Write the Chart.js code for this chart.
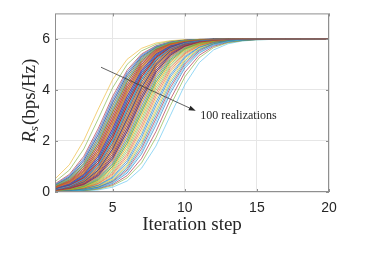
<!DOCTYPE html>
<html>
<head>
<meta charset="utf-8">
<script src="https://cdn.jsdelivr.net/npm/chart.js@4/dist/chart.umd.min.js"></script>
<style>
    html, body { margin: 0; padding: 0; background: #ffffff; }
    #wrap { width: 366px; height: 256px; }
</style>
</head>
<body>
<div id="wrap"><canvas id="rateChart" width="366" height="256"></canvas></div>
<script>
// Iteration steps (x axis)
const iterationSteps = [1, 2, 3, 4, 5, 6, 7, 8, 9, 10, 11, 12, 13, 14, 15, 16, 17, 18, 19, 20];

// Axis ticks
const xTicks = [5, 10, 15, 20];
const yTicks = [0, 2, 4, 6];

// Texts
const xTitle = 'Iteration step';
const yTitleMain = 'R';
const yTitleSub = 's';
const yTitleUnit = '(bps/Hz)';
const noteText = '100 realizations';

// Annotation arrow (data coords): tail and head
const arrowFrom = [4.19, 4.89];
const arrowTo = [10.76, 3.18];
const notePos = [11.08, 2.85];

// MATLAB default colour order
const lineColors = ['#0072BD', '#D95319', '#EDB120', '#7E2F8E', '#77AC30', '#4DBEEE', '#A2142F'];

// Secrecy rate Rs (bps/Hz) per iteration, one row per realization
const realizations = [
    [0.12,0.27,0.59,1.23,2.25,3.51,4.6,5.31,5.68,5.86,5.94,5.97,5.99,5.99,6,6,6,6,6,6],
    [0.07,0.16,0.37,0.8,1.59,2.75,3.98,4.93,5.49,5.77,5.9,5.96,5.98,5.99,6,6,6,6,6,6],
    [0.51,1.07,2.02,3.25,4.41,5.2,5.63,5.84,5.93,5.97,5.98,5.99,6,6,6,6,6,6,6,6],
    [0.18,0.4,0.86,1.69,2.87,4.09,5,5.53,5.79,5.91,5.96,5.98,5.99,6,6,6,6,6,6,6],
    [0.4,0.86,1.69,2.87,4.09,5,5.53,5.79,5.91,5.96,5.98,5.99,6,6,6,6,6,6,6,6],
    [0.01,0.02,0.04,0.08,0.19,0.43,0.93,1.8,3,4.2,5.07,5.57,5.81,5.92,5.96,5.98,5.99,6,6,6],
    [0.05,0.11,0.25,0.55,1.14,2.13,3.38,4.51,5.26,5.66,5.85,5.93,5.97,5.98,5.99,6,6,6,6,6],
    [0.15,0.34,0.74,1.49,2.62,3.87,4.86,5.45,5.75,5.89,5.95,5.98,5.99,6,6,6,6,6,6,6],
    [0.03,0.06,0.14,0.32,0.69,1.4,2.49,3.75,4.77,5.41,5.73,5.88,5.95,5.98,5.99,6,6,6,6,6],
    [0.09,0.21,0.47,1,1.91,3.13,4.31,5.14,5.6,5.82,5.92,5.97,5.98,5.99,6,6,6,6,6,6],
    [0.23,0.51,1.07,2.02,3.25,4.41,5.2,5.63,5.84,5.93,5.97,5.98,5.99,6,6,6,6,6,6,6],
    [0.06,0.14,0.32,0.69,1.4,2.49,3.75,4.77,5.41,5.73,5.88,5.95,5.98,5.99,6,6,6,6,6,6],
    [0.13,0.29,0.64,1.31,2.37,3.63,4.69,5.36,5.71,5.87,5.94,5.98,5.99,5.99,6,6,6,6,6,6],
    [0.02,0.03,0.08,0.18,0.4,0.86,1.69,2.87,4.09,5,5.53,5.79,5.91,5.96,5.98,5.99,6,6,6,6],
    [0.08,0.19,0.43,0.93,1.8,3,4.2,5.07,5.57,5.81,5.92,5.96,5.98,5.99,6,6,6,6,6,6],
    [0.16,0.37,0.8,1.59,2.75,3.98,4.93,5.49,5.77,5.9,5.96,5.98,5.99,6,6,6,6,6,6,6],
    [0.04,0.08,0.19,0.43,0.93,1.8,3,4.2,5.07,5.57,5.81,5.92,5.96,5.98,5.99,6,6,6,6,6],
    [0.27,0.59,1.23,2.25,3.51,4.6,5.31,5.68,5.86,5.94,5.97,5.99,5.99,6,6,6,6,6,6,6],
    [0.1,0.23,0.51,1.07,2.02,3.25,4.41,5.2,5.63,5.84,5.93,5.97,5.98,5.99,6,6,6,6,6,6],
    [0.07,0.15,0.34,0.74,1.49,2.62,3.87,4.86,5.45,5.75,5.89,5.95,5.98,5.99,6,6,6,6,6,6],
    [0.14,0.32,0.69,1.4,2.49,3.75,4.77,5.41,5.73,5.88,5.95,5.98,5.99,6,6,6,6,6,6,6],
    [0.02,0.05,0.11,0.25,0.55,1.14,2.13,3.38,4.51,5.26,5.66,5.85,5.93,5.97,5.98,5.99,6,6,6,6],
    [0.08,0.18,0.4,0.86,1.69,2.87,4.09,5,5.53,5.79,5.91,5.96,5.98,5.99,6,6,6,6,6,6],
    [0.21,0.47,1,1.91,3.13,4.31,5.14,5.6,5.82,5.92,5.97,5.98,5.99,6,6,6,6,6,6,6],
    [0.11,0.25,0.55,1.14,2.13,3.38,4.51,5.26,5.66,5.85,5.93,5.97,5.98,5.99,6,6,6,6,6,6],
    [0.04,0.1,0.23,0.51,1.07,2.02,3.25,4.41,5.2,5.63,5.84,5.93,5.97,5.98,5.99,6,6,6,6,6],
    [0.19,0.43,0.93,1.8,3,4.2,5.07,5.57,5.81,5.92,5.96,5.98,5.99,6,6,6,6,6,6,6],
    [0.01,0.02,0.06,0.13,0.29,0.64,1.31,2.37,3.63,4.69,5.36,5.71,5.87,5.94,5.98,5.99,5.99,6,6,6],
    [0.06,0.13,0.29,0.64,1.31,2.37,3.63,4.69,5.36,5.71,5.87,5.94,5.98,5.99,5.99,6,6,6,6,6],
    [0.15,0.34,0.74,1.49,2.62,3.87,4.86,5.45,5.75,5.89,5.95,5.98,5.99,6,6,6,6,6,6,6],
    [0.09,0.21,0.47,1,1.91,3.13,4.31,5.14,5.6,5.82,5.92,5.97,5.98,5.99,6,6,6,6,6,6],
    [0.29,0.64,1.31,2.37,3.63,4.69,5.36,5.71,5.87,5.94,5.98,5.99,5.99,6,6,6,6,6,6,6],
    [0.03,0.07,0.16,0.37,0.8,1.59,2.75,3.98,4.93,5.49,5.77,5.9,5.96,5.98,5.99,6,6,6,6,6],
    [0.07,0.16,0.37,0.8,1.59,2.75,3.98,4.93,5.49,5.77,5.9,5.96,5.98,5.99,6,6,6,6,6,6],
    [0.12,0.27,0.59,1.23,2.25,3.51,4.6,5.31,5.68,5.86,5.94,5.97,5.99,5.99,6,6,6,6,6,6],
    [0.04,0.09,0.21,0.47,1,1.91,3.13,4.31,5.14,5.6,5.82,5.92,5.97,5.98,5.99,6,6,6,6,6],
    [0.18,0.4,0.86,1.69,2.87,4.09,5,5.53,5.79,5.91,5.96,5.98,5.99,6,6,6,6,6,6,6],
    [0.08,0.19,0.43,0.93,1.8,3,4.2,5.07,5.57,5.81,5.92,5.96,5.98,5.99,6,6,6,6,6,6],
    [0.25,0.55,1.14,2.13,3.38,4.51,5.26,5.66,5.85,5.93,5.97,5.98,5.99,6,6,6,6,6,6,6],
    [0.02,0.04,0.09,0.21,0.47,1,1.91,3.13,4.31,5.14,5.6,5.82,5.92,5.97,5.98,5.99,6,6,6,6],
    [0.14,0.32,0.69,1.4,2.49,3.75,4.77,5.41,5.73,5.88,5.95,5.98,5.99,6,6,6,6,6,6,6],
    [0.05,0.12,0.27,0.59,1.23,2.25,3.51,4.6,5.31,5.68,5.86,5.94,5.97,5.99,5.99,6,6,6,6,6],
    [0.1,0.23,0.51,1.07,2.02,3.25,4.41,5.2,5.63,5.84,5.93,5.97,5.98,5.99,6,6,6,6,6,6],
    [0.16,0.37,0.8,1.59,2.75,3.98,4.93,5.49,5.77,5.9,5.96,5.98,5.99,6,6,6,6,6,6,6],
    [0.02,0.06,0.13,0.29,0.64,1.31,2.37,3.63,4.69,5.36,5.71,5.87,5.94,5.98,5.99,5.99,6,6,6,6],
    [0.08,0.18,0.4,0.86,1.69,2.87,4.09,5,5.53,5.79,5.91,5.96,5.98,5.99,6,6,6,6,6,6],
    [0.23,0.51,1.07,2.02,3.25,4.41,5.2,5.63,5.84,5.93,5.97,5.98,5.99,6,6,6,6,6,6,6],
    [0.13,0.29,0.64,1.31,2.37,3.63,4.69,5.36,5.71,5.87,5.94,5.98,5.99,5.99,6,6,6,6,6,6],
    [0.06,0.14,0.32,0.69,1.4,2.49,3.75,4.77,5.41,5.73,5.88,5.95,5.98,5.99,6,6,6,6,6,6],
    [0.02,0.03,0.07,0.15,0.34,0.74,1.49,2.62,3.87,4.86,5.45,5.75,5.89,5.95,5.98,5.99,6,6,6,6],
    [0.11,0.25,0.55,1.14,2.13,3.38,4.51,5.26,5.66,5.85,5.93,5.97,5.98,5.99,6,6,6,6,6,6],
    [0.07,0.15,0.34,0.74,1.49,2.62,3.87,4.86,5.45,5.75,5.89,5.95,5.98,5.99,6,6,6,6,6,6],
    [0.19,0.43,0.93,1.8,3,4.2,5.07,5.57,5.81,5.92,5.96,5.98,5.99,6,6,6,6,6,6,6],
    [0.03,0.08,0.18,0.4,0.86,1.69,2.87,4.09,5,5.53,5.79,5.91,5.96,5.98,5.99,6,6,6,6,6],
    [0.09,0.21,0.47,1,1.91,3.13,4.31,5.14,5.6,5.82,5.92,5.97,5.98,5.99,6,6,6,6,6,6],
    [0.32,0.69,1.4,2.49,3.75,4.77,5.41,5.73,5.88,5.95,5.98,5.99,6,6,6,6,6,6,6,6],
    [0.06,0.13,0.29,0.64,1.31,2.37,3.63,4.69,5.36,5.71,5.87,5.94,5.98,5.99,5.99,6,6,6,6,6],
    [0.15,0.34,0.74,1.49,2.62,3.87,4.86,5.45,5.75,5.89,5.95,5.98,5.99,6,6,6,6,6,6,6],
    [0.02,0.04,0.1,0.23,0.51,1.07,2.02,3.25,4.41,5.2,5.63,5.84,5.93,5.97,5.98,5.99,6,6,6,6],
    [0.08,0.19,0.43,0.93,1.8,3,4.2,5.07,5.57,5.81,5.92,5.96,5.98,5.99,6,6,6,6,6,6],
    [0.12,0.27,0.59,1.23,2.25,3.51,4.6,5.31,5.68,5.86,5.94,5.97,5.99,5.99,6,6,6,6,6,6],
    [0.05,0.11,0.25,0.55,1.14,2.13,3.38,4.51,5.26,5.66,5.85,5.93,5.97,5.98,5.99,6,6,6,6,6],
    [0.21,0.47,1,1.91,3.13,4.31,5.14,5.6,5.82,5.92,5.97,5.98,5.99,6,6,6,6,6,6,6],
    [0.1,0.23,0.51,1.07,2.02,3.25,4.41,5.2,5.63,5.84,5.93,5.97,5.98,5.99,6,6,6,6,6,6],
    [0.03,0.07,0.15,0.34,0.74,1.49,2.62,3.87,4.86,5.45,5.75,5.89,5.95,5.98,5.99,6,6,6,6,6],
    [0.07,0.16,0.37,0.8,1.59,2.75,3.98,4.93,5.49,5.77,5.9,5.96,5.98,5.99,6,6,6,6,6,6],
    [0.14,0.32,0.69,1.4,2.49,3.75,4.77,5.41,5.73,5.88,5.95,5.98,5.99,6,6,6,6,6,6,6],
    [0.01,0.02,0.05,0.11,0.25,0.55,1.14,2.13,3.38,4.51,5.26,5.66,5.85,5.93,5.97,5.98,5.99,6,6,6],
    [0.16,0.37,0.8,1.59,2.75,3.98,4.93,5.49,5.77,5.9,5.96,5.98,5.99,6,6,6,6,6,6,6],
    [0.08,0.18,0.4,0.86,1.69,2.87,4.09,5,5.53,5.79,5.91,5.96,5.98,5.99,6,6,6,6,6,6],
    [0.27,0.59,1.23,2.25,3.51,4.6,5.31,5.68,5.86,5.94,5.97,5.99,5.99,6,6,6,6,6,6,6],
    [0.11,0.25,0.55,1.14,2.13,3.38,4.51,5.26,5.66,5.85,5.93,5.97,5.98,5.99,6,6,6,6,6,6],
    [0.04,0.08,0.19,0.43,0.93,1.8,3,4.2,5.07,5.57,5.81,5.92,5.96,5.98,5.99,6,6,6,6,6],
    [0.13,0.29,0.64,1.31,2.37,3.63,4.69,5.36,5.71,5.87,5.94,5.98,5.99,5.99,6,6,6,6,6,6],
    [0.04,0.1,0.23,0.51,1.07,2.02,3.25,4.41,5.2,5.63,5.84,5.93,5.97,5.98,5.99,6,6,6,6,6],
    [0.23,0.51,1.07,2.02,3.25,4.41,5.2,5.63,5.84,5.93,5.97,5.98,5.99,6,6,6,6,6,6,6],
    [0.07,0.15,0.34,0.74,1.49,2.62,3.87,4.86,5.45,5.75,5.89,5.95,5.98,5.99,6,6,6,6,6,6],
    [0.02,0.04,0.08,0.19,0.43,0.93,1.8,3,4.2,5.07,5.57,5.81,5.92,5.96,5.98,5.99,6,6,6,6],
    [0.18,0.4,0.86,1.69,2.87,4.09,5,5.53,5.79,5.91,5.96,5.98,5.99,6,6,6,6,6,6,6],
    [0.08,0.19,0.43,0.93,1.8,3,4.2,5.07,5.57,5.81,5.92,5.96,5.98,5.99,6,6,6,6,6,6],
    [0.12,0.27,0.59,1.23,2.25,3.51,4.6,5.31,5.68,5.86,5.94,5.97,5.99,5.99,6,6,6,6,6,6],
    [0.04,0.09,0.21,0.47,1,1.91,3.13,4.31,5.14,5.6,5.82,5.92,5.97,5.98,5.99,6,6,6,6,6],
    [0.29,0.64,1.31,2.37,3.63,4.69,5.36,5.71,5.87,5.94,5.98,5.99,5.99,6,6,6,6,6,6,6],
    [0.09,0.21,0.47,1,1.91,3.13,4.31,5.14,5.6,5.82,5.92,5.97,5.98,5.99,6,6,6,6,6,6],
    [0.02,0.05,0.12,0.27,0.59,1.23,2.25,3.51,4.6,5.31,5.68,5.86,5.94,5.97,5.99,5.99,6,6,6,6],
    [0.07,0.16,0.37,0.8,1.59,2.75,3.98,4.93,5.49,5.77,5.9,5.96,5.98,5.99,6,6,6,6,6,6],
    [0.15,0.34,0.74,1.49,2.62,3.87,4.86,5.45,5.75,5.89,5.95,5.98,5.99,6,6,6,6,6,6,6],
    [0.06,0.14,0.32,0.69,1.4,2.49,3.75,4.77,5.41,5.73,5.88,5.95,5.98,5.99,6,6,6,6,6,6],
    [0.21,0.47,1,1.91,3.13,4.31,5.14,5.6,5.82,5.92,5.97,5.98,5.99,6,6,6,6,6,6,6],
    [0.02,0.03,0.07,0.16,0.37,0.8,1.59,2.75,3.98,4.93,5.49,5.77,5.9,5.96,5.98,5.99,6,6,6,6],
    [0.11,0.25,0.55,1.14,2.13,3.38,4.51,5.26,5.66,5.85,5.93,5.97,5.98,5.99,6,6,6,6,6,6],
    [0.08,0.18,0.4,0.86,1.69,2.87,4.09,5,5.53,5.79,5.91,5.96,5.98,5.99,6,6,6,6,6,6],
    [0.19,0.43,0.93,1.8,3,4.2,5.07,5.57,5.81,5.92,5.96,5.98,5.99,6,6,6,6,6,6,6],
    [0.05,0.12,0.27,0.59,1.23,2.25,3.51,4.6,5.31,5.68,5.86,5.94,5.97,5.99,5.99,6,6,6,6,6],
    [0.14,0.32,0.69,1.4,2.49,3.75,4.77,5.41,5.73,5.88,5.95,5.98,5.99,6,6,6,6,6,6,6],
    [0.25,0.55,1.14,2.13,3.38,4.51,5.26,5.66,5.85,5.93,5.97,5.98,5.99,6,6,6,6,6,6,6],
    [0.1,0.23,0.51,1.07,2.02,3.25,4.41,5.2,5.63,5.84,5.93,5.97,5.98,5.99,6,6,6,6,6,6],
    [0.06,0.13,0.29,0.64,1.31,2.37,3.63,4.69,5.36,5.71,5.87,5.94,5.98,5.99,5.99,6,6,6,6,6],
    [0.13,0.29,0.64,1.31,2.37,3.63,4.69,5.36,5.71,5.87,5.94,5.98,5.99,5.99,6,6,6,6,6,6],
    [0.16,0.37,0.8,1.59,2.75,3.98,4.93,5.49,5.77,5.9,5.96,5.98,5.99,6,6,6,6,6,6,6]
];

// Style
const axisColor = '#262626';
const boxColor = '#8f8f8f';
const gridColor = '#e6e6e6';
const serif = '"Liberation Serif", "Times New Roman", serif';
const sans = '"Liberation Sans", Arial, sans-serif';

// Axis box, inner ticks, titles and annotation
const decorPlugin = {
    id: 'decor',
    afterDraw(chart) {
        const { ctx, chartArea: a } = chart;
        const xs = chart.scales.x;
        const ys = chart.scales.y;
        ctx.save();

        // Box around the axes
        ctx.strokeStyle = boxColor;
        ctx.lineWidth = 1;
        ctx.strokeRect(a.left + 0.5, a.top + 0.5, a.right - a.left - 1, a.bottom - a.top - 1);

        // Small inner tick marks (MATLAB style)
        ctx.beginPath();
        xTicks.forEach(v => {
            const px = Math.round(xs.getPixelForValue(v)) + 0.5;
            ctx.moveTo(px, a.bottom); ctx.lineTo(px, a.bottom - 3);
            ctx.moveTo(px, a.top); ctx.lineTo(px, a.top + 3);
        });
        yTicks.forEach(v => {
            const py = Math.round(ys.getPixelForValue(v)) + 0.5;
            ctx.moveTo(a.left, py); ctx.lineTo(a.left + 3, py);
            ctx.moveTo(a.right, py); ctx.lineTo(a.right - 3, py);
        });
        ctx.stroke();

        ctx.fillStyle = axisColor;

        // X title
        ctx.font = '19px ' + serif;
        ctx.textAlign = 'center';
        ctx.textBaseline = 'alphabetic';
        ctx.fillText(xTitle, (a.left + a.right) / 2, 229.5);

        // Y title: italic R with subscript s, then unit
        ctx.save();
        ctx.translate(35, (a.top + a.bottom) / 2 - 2);
        ctx.rotate(-Math.PI / 2);
        ctx.textAlign = 'left';
        const fMain = 'italic 19px ' + serif;
        const fSub = 'italic 13px ' + serif;
        const fUnit = '19px ' + serif;
        ctx.font = fMain; const wR = ctx.measureText(yTitleMain).width;
        ctx.font = fSub; const wS = ctx.measureText(yTitleSub).width;
        ctx.font = fUnit; const wU = ctx.measureText(yTitleUnit).width;
        let cx = -(wR + wS + 1 + wU) / 2;
        ctx.font = fMain; ctx.fillText(yTitleMain, cx, 0); cx += wR;
        ctx.font = fSub; ctx.fillText(yTitleSub, cx, 3); cx += wS + 1;
        ctx.font = fUnit; ctx.fillText(yTitleUnit, cx, 0);
        ctx.restore();

        // Arrow annotation
        const x0 = xs.getPixelForValue(arrowFrom[0]), y0 = ys.getPixelForValue(arrowFrom[1]);
        const x1 = xs.getPixelForValue(arrowTo[0]), y1 = ys.getPixelForValue(arrowTo[1]);
        const ang = Math.atan2(y1 - y0, x1 - x0);
        const head = 7, half = 2.5;
        const bx = x1 - head * Math.cos(ang), by = y1 - head * Math.sin(ang);
        ctx.strokeStyle = '#3a3a3a';
        ctx.lineWidth = 0.8;
        ctx.beginPath();
        ctx.moveTo(x0, y0);
        ctx.lineTo(bx, by);
        ctx.stroke();
        ctx.fillStyle = '#262626';
        ctx.beginPath();
        ctx.moveTo(x1, y1);
        ctx.lineTo(bx - half * Math.sin(ang), by + half * Math.cos(ang));
        ctx.lineTo(bx + half * Math.sin(ang), by - half * Math.cos(ang));
        ctx.closePath();
        ctx.fill();

        // Annotation text
        ctx.font = '12px ' + serif;
        ctx.textAlign = 'left';
        ctx.fillText(noteText, xs.getPixelForValue(notePos[0]), ys.getPixelForValue(notePos[1]));

        ctx.restore();
    }
};

const datasets = realizations.map((values, i) => ({
    data: values,
    borderColor: lineColors[i % lineColors.length],
    borderWidth: 0.6,
    pointRadius: 0,
    tension: 0,
    fill: false,
    // later realizations drawn on top, like MATLAB
    order: realizations.length - 1 - i
}));

new Chart(document.getElementById('rateChart'), {
    type: 'line',
    data: { labels: iterationSteps, datasets: datasets },
    options: {
        responsive: false,
        animation: false,
        devicePixelRatio: 1,
        layout: { padding: { top: 13, right: 37, bottom: 0, left: 0 } },
        plugins: {
            legend: { display: false },
            tooltip: { enabled: false }
        },
        scales: {
            x: {
                type: 'linear',
                min: 1,
                max: 20,
                afterFit(scale) { scale.height = 64; },
                afterBuildTicks(scale) { scale.ticks = xTicks.map(v => ({ value: v })); },
                grid: { color: gridColor, drawTicks: false },
                border: { display: false },
                ticks: {
                    padding: 8,
                    color: axisColor,
                    font: { family: sans, size: 14 },
                    maxRotation: 0
                }
            },
            y: {
                min: 0,
                max: 7,
                afterFit(scale) { scale.width = 55; },
                afterBuildTicks(scale) { scale.ticks = yTicks.map(v => ({ value: v })); },
                grid: { color: gridColor, drawTicks: false },
                border: { display: false },
                ticks: {
                    padding: 5,
                    color: axisColor,
                    font: { family: sans, size: 14 }
                }
            }
        }
    },
    plugins: [decorPlugin]
});
</script>
</body>
</html>
